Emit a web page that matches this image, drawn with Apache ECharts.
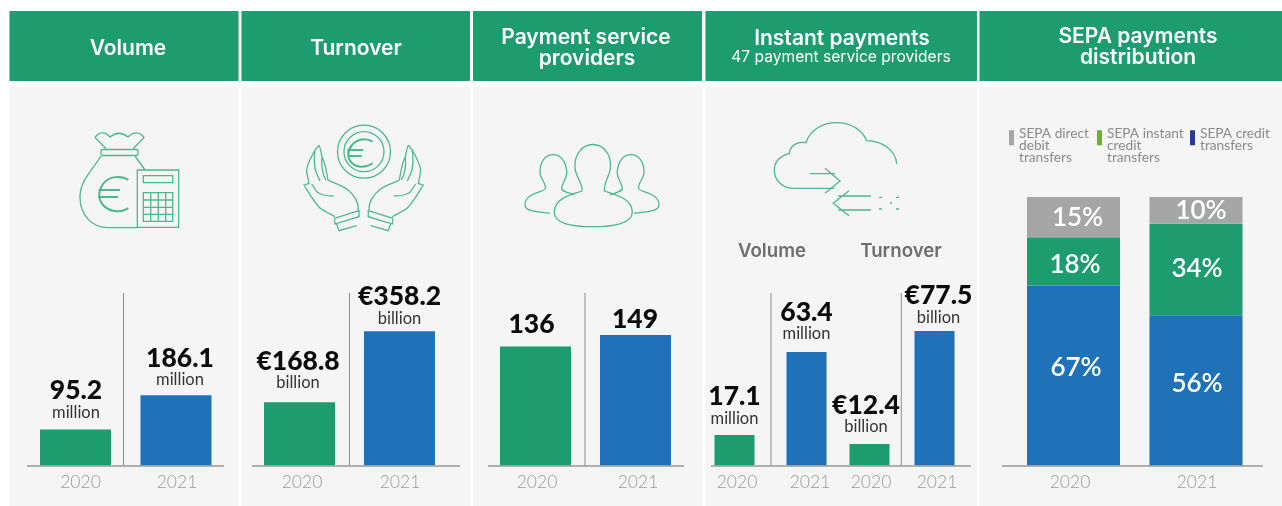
<!DOCTYPE html>
<html>
<head>
<meta charset="utf-8">
<style>html,body{margin:0;padding:0;background:#fff}#c{width:1282px;height:506px}</style>
<script src="https://cdn.jsdelivr.net/npm/echarts@6/dist/echarts.min.js"></script>
</head>
<body>
<div id="c"></div>
<script>
// ---- data ----
const years = ['2020', '2021'];
const volumeValues = [95.2, 186.1];
const turnoverValues = [168.8, 358.2];
const providerValues = [136, 149];
const instantVolumeValues = [17.1, 63.4];
const instantTurnoverValues = [12.4, 77.5];
const sepaCredit = [67, 56];
const sepaInstant = [18, 34];
const sepaDirect = [15, 10];
const volumeLabels = ['95.2', '186.1'];
const turnoverLabels = ['€168.8', '€358.2'];
const instantTurnoverLabels = ['€12.4', '€77.5'];

// ---- style ----
const GREEN = '#1c9c6f', BLUE = '#1f72b8', GREY = '#a6a6a6', ICON = '#4fb78f';
const FONT = 'Lato';
const HEAD = 'Inter';
const BASE_Y = 465.5, TOP_Y = 265, H = BASE_Y - TOP_Y;

const charts = [
  {c:[75.5,176], w:71, max:532, vals:volumeValues, lab:volumeLabels, unit:'million', tick:[5,1], off:[[0.5,0],[4,2]]},
  {c:[299.5,399.5], w:71, max:535, vals:turnoverValues, lab:turnoverLabels, unit:'billion', tick:[2.5,0.5], off:[[-1.5,-2],[0,4.5]]},
  {c:[535.5,635.5], w:71, max:229, vals:providerValues, lab:providerValues.map(String), unit:'', tick:[1.5,2.5], off:[[-4,0],[-0.5,6]]},
  {c:[734.5,806.5], w:40, max:112, vals:instantVolumeValues, lab:instantVolumeValues.map(String), unit:'million', tick:[2.5,3.5], off:[[0,1],[0,-1]]},
  {c:[869.5,934.5], w:40, max:115.6, vals:instantTurnoverValues, lab:instantTurnoverLabels, unit:'billion', tick:[1.5,2.5], off:[[-3.5,0],[4,3.5]]}
];

function xAxisFor(i, tick) {
  const rich = {};
  tick.forEach((d, k) => {
    rich['s' + k] = {fontFamily:FONT, fontSize:17.5, fontWeight:300, color:'#999',
      padding: d >= 0 ? [0,0,0,2*d] : [0,-2*d,0,0]};
  });
  return {type:'category', gridIndex:i, data:years, axisLine:{show:false}, axisTick:{show:false},
    axisLabel:{margin:8, interval:0, formatter:(v, k) => `{s${k}|${v}}`, rich}};
}

const grids = [], xAxes = [], yAxes = [], series = [];
charts.forEach((p, i) => {
  const band = p.c[1] - p.c[0];
  grids.push({left:p.c[0]-band/2, width:band*2, top:TOP_Y, height:H});
  xAxes.push(xAxisFor(i, p.tick));
  yAxes.push({type:'value', gridIndex:i, min:0, max:p.max, show:false});
  series.push({
    type:'bar', name:'panel'+i, xAxisIndex:i, yAxisIndex:i, barWidth:p.w, silent:true,
    data:p.vals.map((v, k) => ({
      value:v,
      itemStyle:{color:k===0?GREEN:BLUE},
      label:{show:true, position:'top', distance:p.unit?7:10, offset:p.off[k],
        formatter:p.unit ? `{v|${p.lab[k]}}\n{u|${p.unit}}` : `{v|${p.lab[k]}}`,
        rich:{v:{fontFamily:FONT, fontWeight:900, fontSize:26.5, lineHeight:23, color:'#0b0b0b'},
              u:{fontFamily:FONT, fontSize:16.5, lineHeight:20.5, color:'#333'}}}
    }))
  });
});

// SEPA stacked panel
const si = charts.length;
grids.push({left:1073.5-61.25, width:122.5*2, top:197, height:BASE_Y-197});
xAxes.push(xAxisFor(si, [-3.5,1]));
yAxes.push({type:'value', gridIndex:si, min:0, max:100, show:false});
const sepaNames = ['SEPA credit transfers','SEPA instant credit transfers','SEPA direct debit transfers'];
[[sepaCredit,BLUE,[[2.5,-8],[1,-6.5]]],[sepaInstant,GREEN,[[1.5,3],[1,-0.5]]],[sepaDirect,GREY,[[4,0.5],[5,0]]]].forEach(([vals,col,offs],k)=>{
  series.push({type:'bar', name:sepaNames[k], stack:'sepa', xAxisIndex:si, yAxisIndex:si, barWidth:93, silent:true,
    itemStyle:{color:col},
    data:vals.map((v,j)=>({value:v,
      label:{show:true, position:'inside', offset:offs[j], formatter:v+'%', color:'#fff',
        fontFamily:FONT, fontWeight:600, fontSize:26}}))});
});

// ---- legend ----
const legendLines = {
  'SEPA direct debit transfers':'SEPA direct\ndebit\ntransfers',
  'SEPA instant credit transfers':'SEPA instant\ncredit\ntransfers',
  'SEPA credit transfers':'SEPA credit\ntransfers'
};
function legendItem(name, color, left, top, boxH) {
  // swatch sits at the top of the text block: a zero-height subpath stretches the icon box to the text height
  return {left, top, orient:'horizontal', padding:0, itemWidth:5, itemHeight:boxH, itemGap:0, selectedMode:false,
    formatter:n => legendLines[n],
    textStyle:{fontFamily:FONT, fontSize:13.7, lineHeight:11.7, color:'#8a8a8a'},
    data:[{name, icon:`path://M0 0H5V0H0Z M0 2H5V17H0Z M0 ${boxH}H5V${boxH}H0Z`, itemStyle:{color}}]};
}
const legends = [
  legendItem('SEPA direct debit transfers', GREY, 1009, 127, 35),
  legendItem('SEPA instant credit transfers', '#6ab42d', 1097, 127, 35),
  legendItem('SEPA credit transfers', '#253c8f', 1190, 127, 23.4)
];

// ---- static furniture ----
const panels = [[9.5,238.5],[241.5,470],[473,702],[705.5,977],[979.5,1282]];
const g = [];
panels.forEach(([a,b]) => {
  g.push({type:'rect', shape:{x:a,y:11,width:b-a,height:70}, style:{fill:GREEN}});
  g.push({type:'rect', shape:{x:a,y:87,width:b-a,height:419}, style:{fill:'#f5f5f5'}});
});
function txt(text,x,y,size,weight,fill,family){
  g.push({type:'text', style:{text,x,y,align:'center',verticalAlign:'middle',fontSize:size,fontWeight:weight,fill,fontFamily:family||HEAD}});
}
txt('Volume',128,48.5,21,600,'#fff');
txt('Turnover',356,48.5,21,600,'#fff');
txt('Payment service',586,37.5,21,600,'#fff');
txt('providers',587,59,21,600,'#fff');
txt('Instant payments',842,38.5,21,600,'#fff');
txt('47 payment service providers',841,57.5,15.6,400,'#fff');
txt('SEPA payments',1138,37,21,600,'#fff');
txt('distribution',1138,58,21,600,'#fff');
txt('Volume',772,251.5,18.7,600,'#6e6e6e');
txt('Turnover',901,251.5,18.7,600,'#6e6e6e');

[[27,224],[252,460],[488,684],[711,971],[1002,1263]].forEach(([a,b]) => {
  g.push({type:'line', shape:{x1:a,y1:466,x2:b,y2:466}, style:{stroke:'#999',lineWidth:1.4}, z:5});
});
[123.5,349.5,585,771,901.3].forEach(x => {
  g.push({type:'line', shape:{x1:x,y1:293,x2:x,y2:466}, style:{stroke:'#8c8c8c',lineWidth:1}, z:5});
});

// ---- icons (outline pictograms) ----
const iconPaths = [
  'M95 137.5C99 132 105 131 110 137C116 132 122 132 128 137C134 131 140 132 144 137.5L133.5 148.5M95 137.5L106 148.5',
  'M102.5 149.5H136.5Q138 149.5 138 151V154Q138 155.5 136.5 155.5H102.5Q101 155.5 101 154V151Q101 149.5 102.5 149.5Z',
  'M101 156C94 168 80 180 80 197C80 215 92 227.7 108 227.7H137.3M135 156L145 170',
  'M137.3 170H178.7V227.3H137.3Z M143.3 175.7H172.7V182.7H143.3Z M143.3 192.7H172.7V221.3H143.3Z',
  'M150.7 192.7V221.3M158.3 192.7V221.3M165.7 192.7V221.3M143.3 200H172.7M143.3 207.3H172.7M143.3 214.3H172.7',
  'M896.7 164C896 150 882 141 866.7 140.7C862 129 850 122.7 836.7 122.7C822 122.7 810 130 806 142.7C797 141 790 146 789.3 153.3C780 156 774.3 162 774.3 170C774.3 181 783 188.3 793.3 188.3L834 188.3',
  'M810 173.7H835M825 168.3L840 181L825 193.3M849 190.7L833.3 203.3L849 215.7M838.3 196H871M838.3 210H871',
  'M879 197.3H882M890 203H892M896 197.3H899M879 209H882M896 209H899',
  'M592.7 144.5C604 144.5 611 155 610.5 166C611 175 603 182 604.5 191C615 195 632 198 632.3 212C632.5 224 612 226.7 592.7 226.7C573 226.7 554 224 554.3 212C554.5 198 571 195 582 191C583 182 574 175 575 166C574.5 155 582 144.5 592.7 144.5Z'
];
const sidePerson = 'M574 195C568 192 561 192 561.7 188C562 183 567.5 178 566.7 171.5C566 162 561 154.7 553.3 154.7C545 154.7 540 162 540 171.5C539.5 178 546 183 545.5 188C545 193 525 192 525 205C525 212 540 212 550 213.3';
const hand = 'M358.3 210.7C359 200 352 193 346.7 189C340 184 333 183 328 180C326 170 326 165 322 157C321 152 320 146 319 145.5C317 147 316 149 315 150C311 158 306 165 306.7 172L309 183.5C307 184 305.5 184.5 304 185C309 193 314 202 320 208C325 212 331 214 335 216.7 M333.5 196C327 196 321 195 317 192C315 189 313 186 311.7 184 M315 150C314 158 314 166 316 172L320 181 M322 157C321 165 322 170 324 176L326 180 M334.3 218.3L359 210.7L359 216.7L335 224L334.3 218.3 M336.7 224L339 230.7L356.7 225.7';
const euroStroke = 'M128.3 180C121 175 109 176 103 184C98 191 98 199 103 205C109 212 120 213 128.3 208.3 M98.5 190H120 M98 197H118 M372.7 141.7C366 137.5 357 139 352 145C347 151 347 158 352 163C357 168 366 168 372.7 163.3 M347.3 150H363.3 M347.3 156H361.7';

const iconSeries = {
  type:'custom', coordinateSystem:'none', silent:true, z:3, data:[[0]],
  renderItem: () => {
    const st = {fill:'none', stroke:ICON, lineWidth:1.3};
    const kids = iconPaths.map(d => ({type:'path', shape:{pathData:d}, style:st}));
    kids.push({type:'path', shape:{pathData:sidePerson}, style:st});
    kids.push({type:'path', x:1184, scaleX:-1, shape:{pathData:sidePerson}, style:st});
    kids.push({type:'path', shape:{pathData:hand}, style:st});
    kids.push({type:'path', x:727.3, scaleX:-1, shape:{pathData:hand}, style:st});
    kids.push({type:'path', shape:{pathData:euroStroke}, style:{fill:'none',stroke:ICON,lineWidth:2}});
    kids.push({type:'circle', shape:{cx:364,cy:151.7,r:26.5}, style:st});
    kids.push({type:'circle', shape:{cx:364,cy:151.7,r:20}, style:st});
    return {type:'group', children:kids};
  }
};
series.push(iconSeries);

const chart = echarts.init(document.getElementById('c'), null, {renderer:'canvas'});
chart.setOption({
  animation:false,
  backgroundColor:'#fff',
  tooltip:{show:false},
  graphic:{elements:g},
  legend:legends,
  grid:grids, xAxis:xAxes, yAxis:yAxes, series
});
</script>
</body>
</html>
